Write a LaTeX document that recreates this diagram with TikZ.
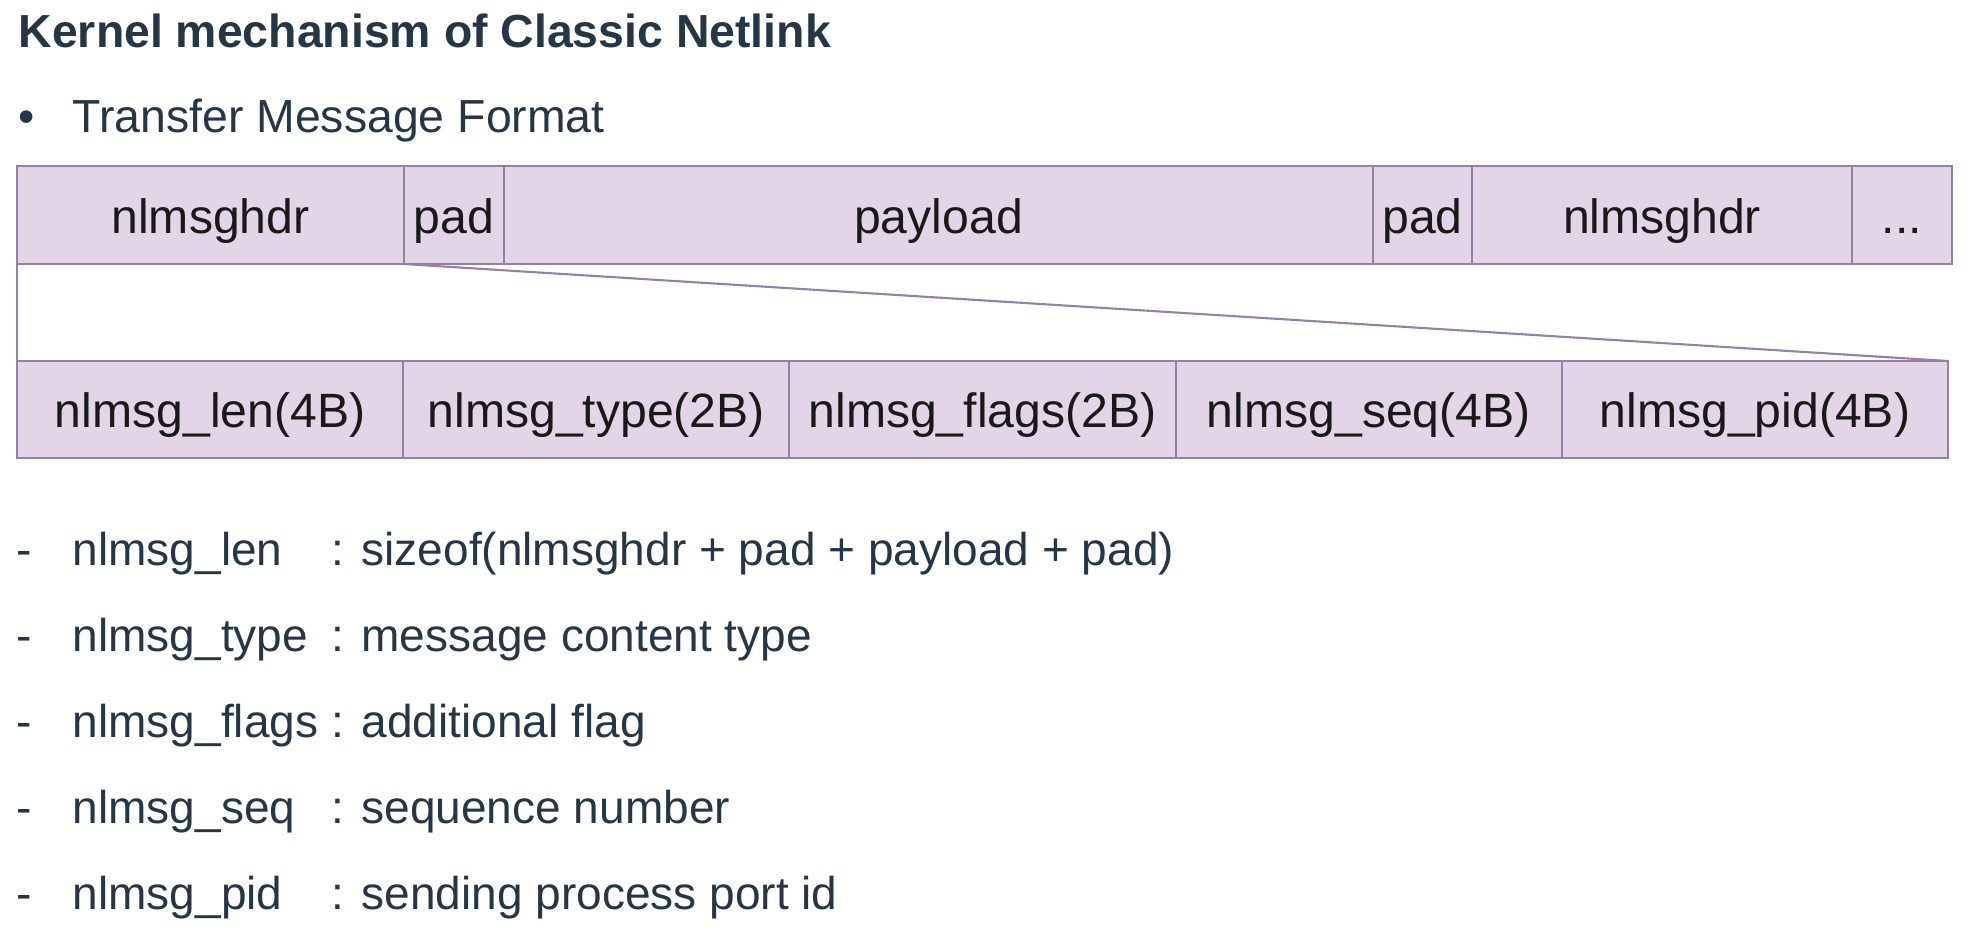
\documentclass[tikz,border=0pt]{standalone}
\usepackage{fontspec}
\setmainfont{Liberation Sans}
\usetikzlibrary{positioning}
\definecolor{slate}{RGB}{37,55,70}
\definecolor{cellfill}{RGB}{225,213,231}
\definecolor{cellline}{RGB}{150,128,166}
\newcommand{\txtsize}{\fontsize{13.1}{16}\selectfont}
\newcommand{\headsize}{\fontsize{13.2}{16}\selectfont}
\newcommand{\cellsize}{\fontsize{13.7}{16}\selectfont}

\tikzset{
  cell/.style={draw=cellline, fill=cellfill, line width=0.6pt, inner sep=0pt, outer sep=0pt,
    minimum height=0.98cm, text height=0.36cm, text depth=0pt, anchor=west, text=black!90, font=\cellsize},
  txt/.style={anchor=base west, inner sep=0pt, text=slate, font=\txtsize}
}

\begin{document}
\begin{tikzpicture}
	\useasboundingbox (0,0) rectangle (19.81,-9.46);

	\node[txt, font=\headsize\bfseries] (title) at (0.18,-0.47) {Kernel mechanism of Classic Netlink};
	\node[txt, font=\headsize] (bullet) at (0.18,-1.32) {•};
	\node[txt, font=\headsize] (format) at (0.72,-1.32) {Transfer Message Format};

	% message stream
	\node[cell, minimum width=3.87cm] (hdr) at (0.17,-2.15) {nlmsghdr};
	\node[cell, minimum width=1cm, right=0pt of hdr] (padA) {pad};
	\node[cell, minimum width=8.69cm, right=0pt of padA] (payload) {payload};
	\node[cell, minimum width=0.99cm, right=0pt of payload] (padB) {pad};
	\node[cell, minimum width=3.8cm, right=0pt of padB] (hdrB) {nlmsghdr};
	\node[cell, minimum width=1cm, right=0pt of hdrB] (more) {...};

	% header fields
	\foreach \name/\txt [count=\i] in {len/nlmsg\_len(4B), type/nlmsg\_type(2B), flags/nlmsg\_flags(2B), seq/nlmsg\_seq(4B), pid/nlmsg\_pid(4B)}
		\node[cell, minimum width=3.862cm, minimum height=0.97cm] (f\name) at ({0.17+(\i-1)*3.862},-4.095) {\txt};

	\draw[cellline, line width=0.6pt] (hdr.south east) -- (fpid.north east);
	\draw[cellline, line width=0.6pt] (hdr.south west) -- (flen.north west);

	% field list
	\foreach \fld/\desc [count=\i] in {len/{sizeof(nlmsghdr + pad + payload + pad)}, type/{message content type}, flags/{additional flag}, seq/{sequence number}, pid/{sending process port id}} {
		\node[txt] (dash\i) at (0.16,{-5.65-(\i-1)*0.862}) {-};
		\node[txt] (item\i) at (0.72,{-5.65-(\i-1)*0.862}) {nlmsg\_\fld};
		\node[txt] (desc\i) at (3.31,{-5.65-(\i-1)*0.862}) {: \desc};
	}

\end{tikzpicture}
\end{document}
